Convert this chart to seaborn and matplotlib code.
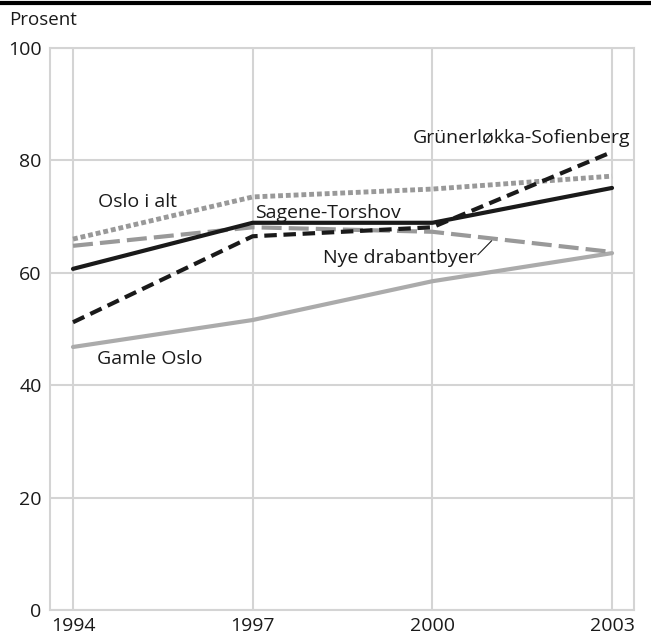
import numpy as np
import pandas as pd
import matplotlib.pyplot as plt
import seaborn as sns

years = [1994, 1997, 2000, 2003]
oslo_i_alt = [66.0, 73.5, 74.9, 77.2]
sagene = [60.7, 68.9, 68.9, 75.1]
grunerlokka = [51.2, 66.5, 68.1, 81.5]
nye_drabantbyer = [64.8, 68.1, 67.3, 63.7]
gamle_oslo = [46.8, 51.6, 58.5, 63.5]

df = pd.DataFrame({
    "year": years * 5,
    "value": oslo_i_alt + sagene + grunerlokka + nye_drabantbyer + gamle_oslo,
    "series": (["Oslo i alt"] * 4 + ["Sagene-Torshov"] * 4 + ["Grünerløkka-Sofienberg"] * 4
               + ["Nye drabantbyer"] * 4 + ["Gamle Oslo"] * 4),
})

sns.set_style("white")
plt.rcParams['font.family'] = ['Open Sans', 'DejaVu Sans']

fig = plt.figure(figsize=(6.51, 6.44), dpi=100)
# axes frame: left 50, right 634, top 48, bottom 610 (pixels)
ax = fig.add_axes([50 / 651, 34 / 644, 584 / 651, 562 / 644])

styles = {
    "Gamle Oslo": dict(color="#ababab", ls="-", lw=3),
    "Nye drabantbyer": dict(color="#999999", ls=(0, (4.8, 1.7)), lw=3),
    "Oslo i alt": dict(color="#999999", ls=(0, (1.0, 0.6)), lw=3.5),
    "Sagene-Torshov": dict(color="#1a1a1a", ls="-", lw=3),
    "Grünerløkka-Sofienberg": dict(color="#1a1a1a", ls=(0, (3, 1.6)), lw=3),
}
for name, st in styles.items():
    sub = df[df.series == name]
    sns.lineplot(data=sub, x="year", y="value", ax=ax, color=st["color"],
                 linestyle=st["ls"], linewidth=st["lw"], legend=False)
for line in ax.lines:
    line.set_dash_capstyle("butt")

ax.set_xlim(1993.616, 2003.367)
ax.set_ylim(0, 100)
ax.set_xticks(years)
ax.set_yticks([0, 20, 40, 60, 80, 100])
ax.grid(True, color="#d4d4d4", lw=1.5)
ax.set_axisbelow(True)
for s in ax.spines.values():
    s.set_color("#d4d4d4")
    s.set_linewidth(1.5)
ax.tick_params(length=0, labelsize=14, colors="#1a1a1a")
ax.tick_params(axis="y", pad=6)
ax.tick_params(axis="x", pad=5)
ax.set_xlabel("")
ax.set_ylabel("")

tk = dict(fontsize=14, color="#1a1a1a", va="center", ha="left")
ax.text(1994.42, 72.6, "Oslo i alt", **tk)
ax.text(1997.04, 70.6, "Sagene-Torshov", **tk)
ax.text(1999.68, 84.0, "Grünerløkka-Sofienberg", **tk)
ax.text(1998.17, 62.6, "Nye drabantbyer", **tk)
ax.text(1994.40, 44.6, "Gamle Oslo", **tk)
ax.plot([2000.76, 2000.99], [63.2, 65.7], color="#1a1a1a", lw=0.8)

fig.text(9 / 651, 1 - 20 / 644, "Prosent", fontsize=13.5, color="#1a1a1a", va="center")
fig.add_artist(plt.Line2D([0, 1], [1 - 2.5 / 644, 1 - 2.5 / 644], color="black", lw=3))

fig.savefig("out.png", dpi=100)
